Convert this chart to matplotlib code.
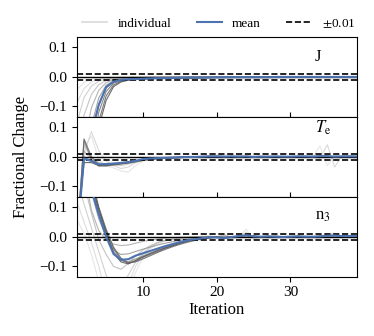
import numpy as np
import matplotlib
matplotlib.use("Agg")
import matplotlib.pyplot as plt
from matplotlib.lines import Line2D

plt.rcParams['font.family'] = ['Liberation Serif', 'DejaVu Serif']
plt.rcParams['mathtext.fontset'] = 'stix'
plt.rcParams['font.size'] = 10

iterations = list(range(1, 40))

# individual runs, in units of 1e-3 (light -> dark)
j_runs = [
    [-45, -20, -9, -5, -3, -2, -2, -1, -1, -1, -1, -1, -1, -1, 0, 0, 0, 0, 0, 0,
     0, 0, 0, 0, 0, 0, 0, 0, 0, 0, 0, 0, 0, 0, 0, 0, 0, 0, 0],
    [-90, -40, -18, -9, -5, -3, -2, -2, -1, -1, -1, -1, -1, -1, -1, 0, 0, 0, 0, 0,
     0, 0, 0, 0, 0, 0, 0, 0, 0, 0, 0, 0, 0, 0, 0, 0, 0, 0, 0],
    [-160, -70, -32, -15, -8, -5, -3, -2, -2, -2, -1, -1, -1, -1, -1, -1, -1, 0, 0, 0,
     0, 0, 0, 0, 0, 0, 0, 0, 0, 0, 0, 0, 0, 0, 0, 0, 0, 0, 0],
    [-260, -130, -60, -27, -13, -7, -5, -3, -3, -2, -2, -2, -1, -1, -1, -1, -1, -1, -1, 0,
     0, 0, 0, 0, 0, 0, 0, 0, 0, 0, 0, 0, 0, 0, 0, 0, 0, 0, 0],
    [-420, -230, -105, -46, -20, -10, -7, -5, -4, -3, -3, -2, -2, -2, -2, -1, -1, -1, -1, -1,
     -1, -1, -1, 0, 0, 0, 0, 0, 0, 0, 0, 0, 0, 0, 0, 0, 0, 0, 0],
    [-560, -340, -165, -72, -29, -14, -9, -7, -6, -5, -4, -4, -3, -3, -3, -2, -2, -2, -2, -2,
     -1, -1, -1, -1, -1, -1, -1, -1, -1, -1, 0, 0, 0, 0, 0, 0, 0, 0, 0],
    [-650, -420, -210, -95, -38, -18, -12, -9, -8, -7, -6, -5, -5, -4, -4, -3, -3, -3, -3, -2,
     -2, -2, -2, -2, -2, -2, -1, -1, -1, -1, -1, -1, -1, -1, -1, -1, -1, -1, -1],
    [-720, -480, -250, -120, -50, -22, -14, -10, -8, -7, -6, -6, -5, -5, -4, -4, -3, -3, -3, -3,
     -2, -2, -2, -2, -2, -2, -2, -2, -1, -1, -1, -1, -1, -1, -1, -1, -1, -1, -1],
    [-780, -540, -300, -150, -65, -28, -16, -11, -9, -7, -6, -6, -5, -5, -4, -4, -4, -3, -3, -3,
     -3, -2, -2, -2, -2, -2, -2, -2, -2, -1, -1, -1, -1, -1, -1, -1, -1, -1, -1],
    [-800, -580, -330, -170, -80, -34, -18, -12, -9, -8, -7, -6, -6, -5, -5, -4, -4, -4, -3, -3,
     -3, -3, -2, -2, -2, -2, -2, -2, -2, -2, -1, -1, -1, -1, -1, -1, -1, -1, -1],
]
j_mean = [-0.700, -0.450, -0.190, -0.095, -0.035, -0.017, -0.011, -0.009, -0.008, -0.007,
          -0.006, -0.005, -0.005, -0.004, -0.004, -0.003, -0.003, -0.003, -0.003, -0.002,
          -0.002, -0.002, -0.002, -0.002, -0.002, -0.002, -0.002, -0.001, -0.001, -0.001,
          -0.001, -0.001, -0.001, -0.001, -0.001, -0.001, -0.001, -0.001, -0.001]

te_runs = [
    [-250, 30, 70, -10, -30, -38, -48, -52, -30, -15, -8, -5, -4, -3, -2, -1, 0, 2, 1, 0,
     5, 8, 3, -2, 0, 1, 0, -1, 0, 0, 1, 2, 0, 35, -30, 5, 0, 2, 0],
    [-300, 10, 85, 20, -15, -30, -40, -35, -20, -12, -8, -6, -5, -3, -2, -2, -1, 0, 3, 6,
     2, -4, -1, 0, 2, 1, 0, 0, -1, 0, 1, 0, -2, -5, 40, -35, 3, 1, 0],
    [-280, 40, -5, -20, -25, -28, -30, -25, -18, -12, -8, -6, -4, -3, -2, -1, 0, 1, 0, 0,
     1, 0, -1, 0, 0, 1, 0, 0, 0, 1, 0, 0, 1, 2, 0, -1, 0, 1, 0],
    [-320, 20, -10, -22, -24, -25, -23, -21, -17, -12, -8, -6, -5, -4, -3, -2, -1, 0, 1, 1,
     0, -1, 0, 1, 0, 0, -1, 0, 0, 0, 0, 1, 0, 0, 1, 0, 0, 0, 1],
    [-300, 0, -15, -30, -30, -27, -24, -21, -17, -12, -8, -6, -5, -4, -3, -2, -1, 0, 1, 1,
     0, 0, 1, 0, 0, -1, 0, 0, 1, 0, 0, 0, 0, 1, 0, 0, 1, 0, 0],
    [-280, 55, -10, -32, -32, -28, -25, -22, -18, -13, -9, -7, -5, -4, -3, -2, -1, 0, 0, 1,
     0, 0, 0, 1, 0, 0, 0, -1, 0, 0, 1, 0, 0, 0, 1, 0, 0, 1, 0],
    [-300, 60, 0, -28, -30, -27, -24, -20, -15, -11, -8, -6, -5, -4, -3, -2, -1, 0, 0, 1,
     0, 1, 0, 0, 0, 1, 0, 0, 0, -1, 0, 0, 1, 0, 0, 1, 0, 0, 0],
    [-260, -20, -20, -30, -28, -26, -23, -20, -16, -11, -8, -6, -4, -3, -2, -1, 0, 0, 1, 0,
     0, 0, 1, 0, 0, 0, 1, 0, 0, 0, -1, 0, 0, 1, 0, 0, 0, 1, 0],
]
te_mean = [-0.290, -0.006, -0.015, -0.026, -0.025, -0.023, -0.021, -0.018, -0.014, -0.008,
           -0.006, -0.005, -0.004, -0.003, -0.002, -0.001, -0.001, 0.000, 0.001, 0.001,
           0.000, 0.001, 0.000, 0.001, -0.001, 0.000, 0.000, 0.001, 0.000, 0.000,
           0.001, 0.001, 0.000, 0.002, 0.002, 0.000, 0.001, 0.001, 0.001]

n3_runs = [
    [60, 10, -60, -150, -250, -300, -280, -200, -120, -70, -40, -25, -15, -10, -6, -4, -2, -1, 0, 2,
     5, -3, 0, 25, -10, 0, 3, -2, 0, 1, 0, 2, -15, 0, 5, 10, -5, 0, 3],
    [120, 50, -20, -100, -200, -250, -230, -160, -100, -60, -35, -20, -12, -8, -5, -3, -2, 0, 1, -5,
     10, -8, 2, 15, -5, 0, -2, 3, 0, -1, 5, 0, -3, 0, 10, 12, 0, -2, 0],
    [200, 110, 30, -50, -130, -180, -170, -130, -85, -55, -35, -20, -13, -8, -5, -3, -1, 0, 2, -2,
     3, 0, -1, 5, 0, 1, 0, -1, 0, 2, 0, 0, -2, 1, 3, 4, 0, 1, 0],
    [300, 180, 80, -10, -60, -100, -110, -90, -65, -45, -30, -20, -13, -8, -5, -3, -2, 0, 1, 0,
     2, -1, 0, 3, 1, 0, 0, 1, 0, -1, 0, 1, 0, 0, 2, 3, 1, 0, 1],
    [400, 220, 90, 20, -10, -25, -30, -28, -22, -16, -11, -8, -5, -3, -2, -1, 0, 1, 0, -1,
     2, 0, 1, 2, 0, 0, 1, 0, -1, 0, 0, 1, 0, 1, 2, 2, 0, 1, 0],
    [500, 330, 150, 60, 0, -45, -60, -58, -50, -42, -35, -28, -22, -17, -12, -8, -6, -4, -2, -1,
     -3, 0, 1, 3, 1, 0, 0, 1, 0, 0, 1, 0, 0, 1, 2, 3, 1, 1, 2],
    [580, 400, 170, 80, 10, -50, -80, -85, -75, -65, -55, -45, -36, -28, -20, -14, -10, -6, -3, -2,
     -4, -1, 2, 4, 1, 0, 1, 0, -1, 0, 1, 0, 0, 1, 3, 4, 2, 2, 3],
    [620, 430, 190, 95, 20, -40, -78, -90, -82, -70, -60, -50, -40, -31, -23, -16, -11, -7, -3, -2,
     -5, -2, 2, 5, 1, 0, 1, 0, -1, 0, 1, 0, 0, 1, 3, 4, 2, 2, 3],
    [650, 450, 200, 100, 25, -35, -72, -88, -85, -75, -64, -53, -43, -34, -26, -19, -13, -8, -4, -2,
     -5, -1, 2, 5, 2, 0, 1, 0, -1, 0, 1, 0, 0, 1, 4, 5, 2, 2, 3],
    [600, 420, 180, 90, 15, -55, -85, -92, -80, -68, -57, -47, -38, -30, -22, -15, -10, -6, -3, -2,
     -4, -1, 1, 4, 1, 0, 0, 1, 0, 0, 1, 0, 0, 1, 3, 4, 1, 2, 2],
]
n3_mean = [0.600, 0.400, 0.160, 0.075, 0.000, -0.058, -0.078, -0.076, -0.064, -0.056,
           -0.048, -0.040, -0.032, -0.025, -0.018, -0.012, -0.009, -0.005, -0.002, -0.002,
           -0.005, -0.001, 0.002, 0.005, 0.001, 0.000, 0.001, 0.000, -0.001, 0.000,
           0.001, 0.000, 0.000, 0.001, 0.003, 0.004, 0.002, 0.002, 0.003]

panel_labels = ['J', r'$T_\mathrm{e}$', r'n$_3$']
label_y = [0.75, 0.86, 0.76]
tol = 0.01
mean_color = '#4C72B0'

fig = plt.figure(figsize=(3.74, 3.36), dpi=100)
gs = fig.add_gridspec(3, 1, left=0.205, right=0.954, top=0.891, bottom=0.1765, hspace=0)
axes = [fig.add_subplot(gs[i]) for i in range(3)]

panels = [(j_runs, j_mean), (te_runs, te_mean), (n3_runs, n3_mean)]
for k, (ax, (runs, mean)) in enumerate(zip(axes, panels)):
    shades = plt.cm.Greys(np.linspace(0.2, 0.75, len(runs)))
    for run, c in zip(runs, shades):
        ax.plot(iterations, np.array(run) / 1000.0, color=c, lw=0.8, alpha=0.85, zorder=1)
    ax.axhline(0, color='k', lw=1.0, zorder=2)
    ax.axhline(tol, color='k', lw=1.2, ls='--', zorder=2)
    ax.axhline(-tol, color='k', lw=1.2, ls='--', zorder=2)
    ax.plot(iterations, mean, color=mean_color, lw=1.5, zorder=3)
    ax.set_xlim(1, 39)
    ax.set_ylim(-0.135, 0.135)
    ax.set_yticks([-0.1, 0.0, 0.1])
    ax.set_xticks([10, 20, 30])
    ax.tick_params(labelsize=11, length=3.5, width=0.8)
    if k < 2:
        ax.tick_params(axis='x', direction='in', labelbottom=False)
    ax.text(0.85, label_y[k], panel_labels[k], transform=ax.transAxes, fontsize=12,
            ha='left', va='center')

axes[2].set_xlabel('Iteration', fontsize=12, labelpad=2)
fig.text(0.057, 0.533, 'Fractional Change', rotation=90, fontsize=12,
         ha='center', va='center')

handles = [Line2D([], [], color='#d9d9d9', lw=1.2),
           Line2D([], [], color=mean_color, lw=1.5),
           Line2D([], [], color='k', lw=1.2, ls='--')]
fig.legend(handles, ['individual', 'mean', r'$\pm$0.01'], loc='center',
           bbox_to_anchor=(0.585, 0.931), ncol=3, frameon=False, fontsize=9.5,
           handlelength=1.9, columnspacing=1.9, handletextpad=0.8)

fig.savefig('out.png', dpi=100)
